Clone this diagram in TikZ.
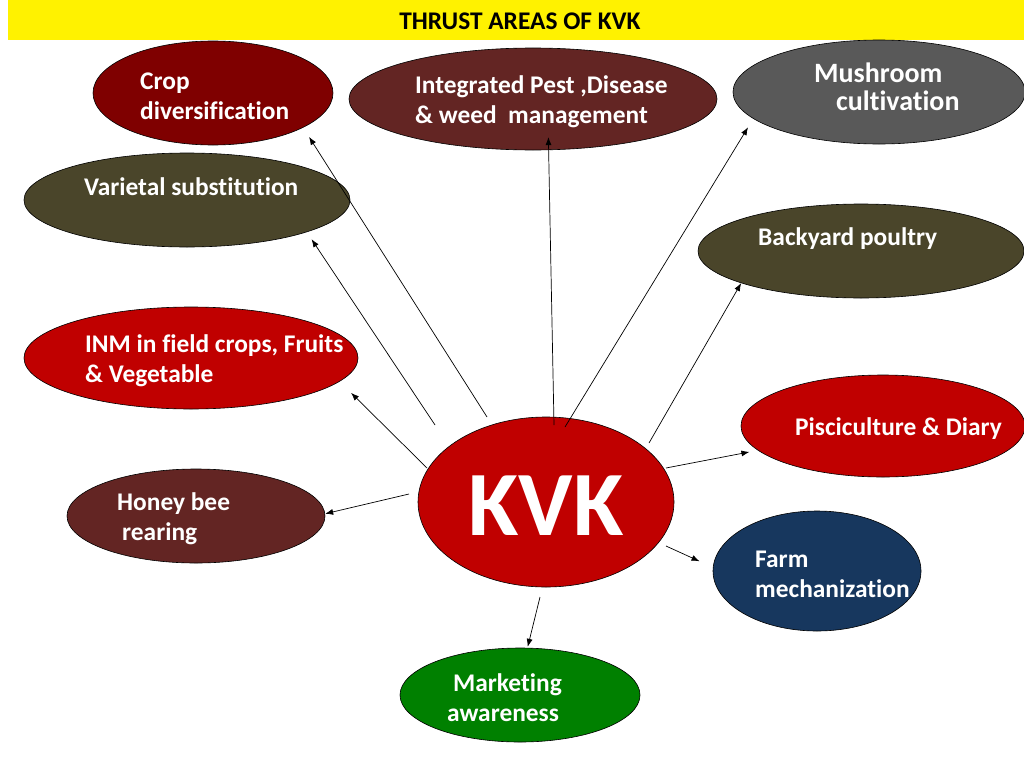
\documentclass[tikz,border=0pt]{standalone}
\usepackage{fontspec}
\setmainfont{Carlito}[Ligatures=NoCommon]
\usetikzlibrary{shapes.geometric,arrows.meta}
\definecolor{cropc}{HTML}{7F0000}
\definecolor{maroonc}{HTML}{632523}
\definecolor{greyc}{HTML}{595959}
\definecolor{olivec}{HTML}{4A452A}
\definecolor{redc}{HTML}{C00000}
\definecolor{navyc}{HTML}{17375E}
\definecolor{greenc}{HTML}{008000}
\begin{document}
\begin{tikzpicture}[x=1pt,y=-1pt,
  oval/.style={ellipse,draw=black,line width=0.6pt,inner sep=0pt},
  lbl/.style={text=white,font=\bfseries\fontsize{25.4}{30}\selectfont,align=left,anchor=west,inner sep=0pt},
  arr/.style={-{Latex[length=8pt,width=6pt]},line width=0.7pt}]
\useasboundingbox (0,0) rectangle (1024,768);
\fill[white] (0,0) rectangle (1024,768);
% banner
\node[fill=yellow,minimum width=1016pt,minimum height=40pt,inner sep=0pt,anchor=north west] (banner) at (8,0) {};
\node[font=\bfseries\fontsize{25.4}{28}\selectfont,inner sep=0pt] (title) at (520,21) {THRUST AREAS OF KVK};
% ellipses
\node[oval,fill=cropc,minimum width=240pt,minimum height=104pt] (crop) at (213,93) {};
\node[oval,fill=maroonc,minimum width=368pt,minimum height=102pt] (ipdm) at (533,99) {};
\node[oval,fill=greyc,minimum width=292pt,minimum height=104pt] (mush) at (879,92) {};
\node[oval,fill=olivec,minimum width=326pt,minimum height=94pt] (var) at (187,200) {};
\node[oval,fill=olivec,minimum width=326pt,minimum height=94pt] (back) at (861,251) {};
\node[oval,fill=redc,minimum width=334pt,minimum height=102pt] (inm) at (191,358) {};
\node[oval,fill=redc,minimum width=284pt,minimum height=102pt] (pisc) at (883,426) {};
\node[oval,fill=redc,minimum width=256pt,minimum height=170pt] (kvk) at (546,502) {};
\node[oval,fill=maroonc,minimum width=258pt,minimum height=94pt] (honey) at (196,516) {};
\node[oval,fill=navyc,minimum width=208pt,minimum height=120pt] (farm) at (817,571) {};
\node[oval,fill=greenc,minimum width=240pt,minimum height=94pt] (mark) at (520,695) {};
% labels
\node[lbl] (cropt) at (140,96) {Crop\\diversification};
\node[lbl] (ipdmt) at (415,102) {Integrated Pest ,Disease\\\& weed\ \ management};
\node[lbl,font=\bfseries\fontsize{28}{28}\selectfont] (musht) at (814,87) {Mushroom\\\hspace*{22pt}cultivation};
\node[lbl] (vart) at (84,187) {Varietal substitution};
\node[lbl] (backt) at (758,239) {Backyard poultry};
\node[lbl] (inmt) at (85,361) {INM in field crops, Fruits\\\& Vegetable};
\node[lbl] (pisct) at (795,429) {Pisciculture \& Diary};
\node[lbl] (honeyt) at (117,519) {Honey bee\\\hspace*{5pt}rearing};
\node[lbl] (farmt) at (755,574) {Farm\\mechanization};
\node[lbl] (markt) at (447,698) {\hspace*{6pt}Marketing\\awareness};
\node[text=white,font=\bfseries\fontsize{92}{92}\selectfont,inner sep=0pt] (kvkt) at (546,506) {KVK};
% start points of connectors
\coordinate (s1) at (487,417);
\coordinate (s2) at (435,425);
\coordinate (s3) at (427,468);
\coordinate (s4) at (409,494);
\coordinate (s5) at (554,425);
\coordinate (s6) at (565,427);
\coordinate (s7) at (649,443);
\coordinate (s8) at (666,468);
\coordinate (s9) at (666,546);
\coordinate (s10) at (540,597);
% connectors
\draw[arr,shorten >=11pt] (s1) -- (crop.-21.7);
\draw[arr,shorten >=8.5pt] (s2) -- (var.-15.9);
\draw[arr,shorten >=16pt] (s3) -- (inm.-9.3);
\draw[arr] (s4) -- (honey.1.8);
\draw[arr,shorten >=-13pt] (s5) -- (ipdm.-73);
\draw[arr,shorten >=10pt] (s6) -- (mush.192.6);
\draw[arr] (s7) -- (back.195.2);
\draw[arr,shorten >=8.5pt] (s8) -- (pisc.191.1);
\draw[arr,shorten >=14.7pt] (s9) -- (farm.178.5);
\draw[arr,shorten >=1pt] (s10) -- (mark.81.9);
\end{tikzpicture}
\end{document}
